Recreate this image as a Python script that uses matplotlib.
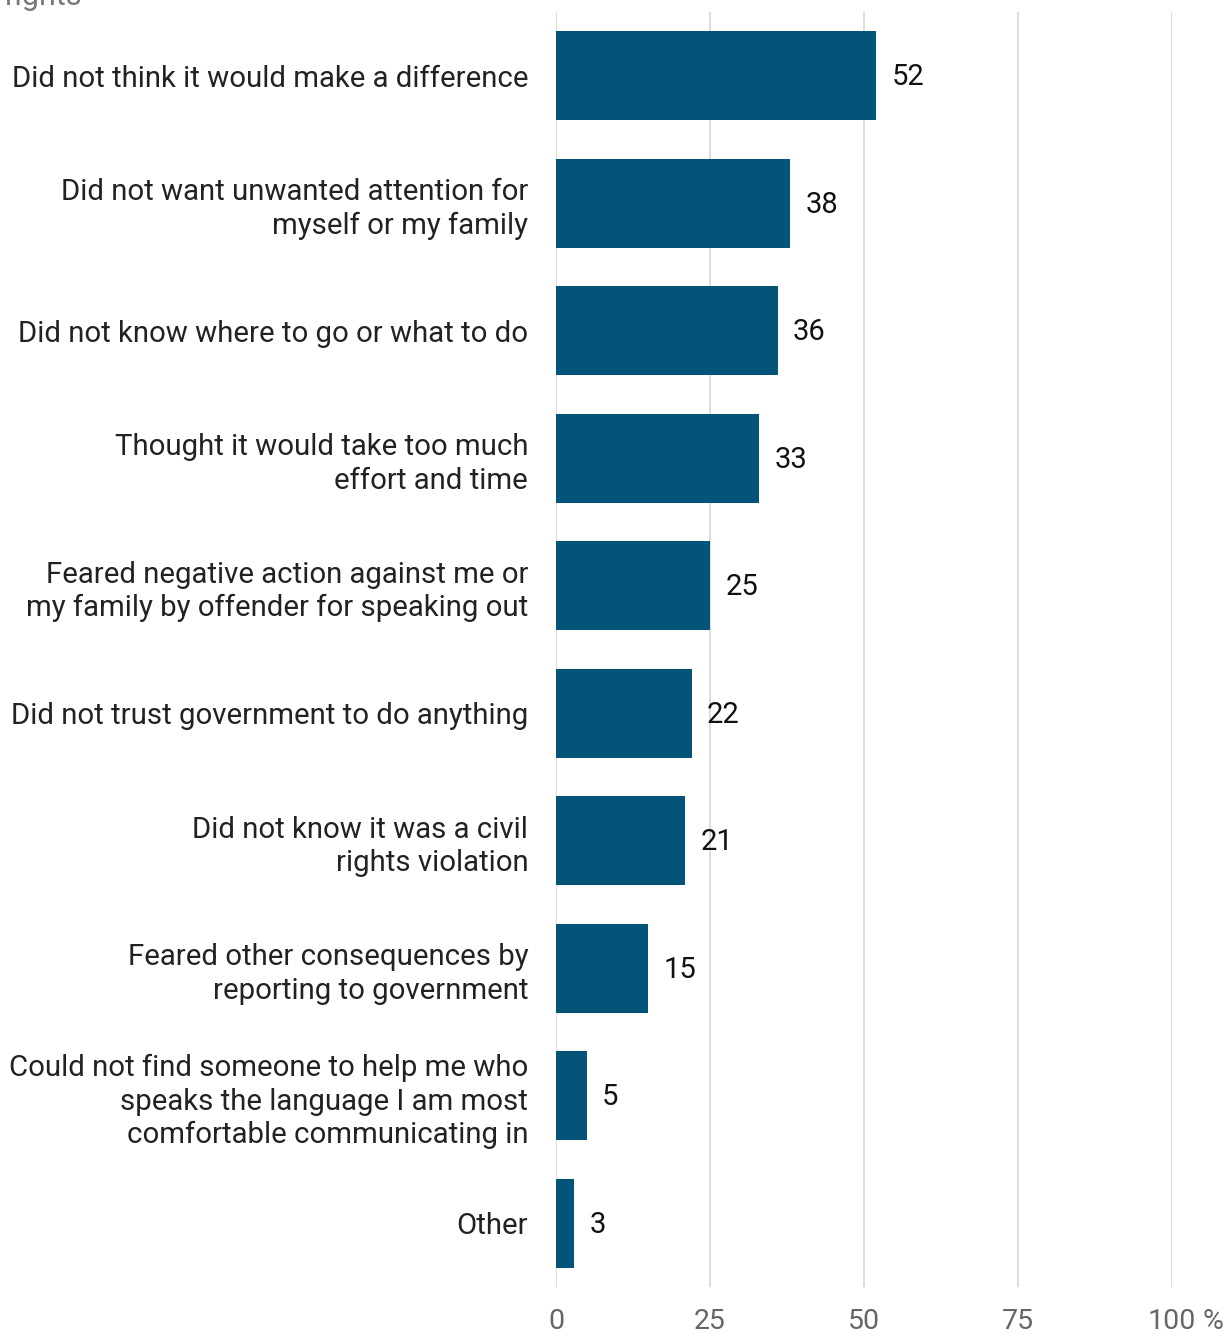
import matplotlib.pyplot as plt
import numpy as np

plt.rcParams['font.family'] = ['Roboto', 'DejaVu Sans']

reasons = [
    'Did not think it would make a difference',
    'Did not want unwanted attention for\nmyself or my family',
    'Did not know where to go or what to do',
    'Thought it would take too much\neffort and time',
    'Feared negative action against me or\nmy family by offender for speaking out',
    'Did not trust government to do anything',
    'Did not know it was a civil\nrights violation',
    'Feared other consequences by\nreporting to government',
    'Could not find someone to help me who\nspeaks the language I am most\ncomfortable communicating in',
    'Other',
]
shares = [52, 38, 36, 33, 25, 22, 21, 15, 5, 3]
x_ticks = [0, 25, 50, 75, 100]
x_ticklabels = ['0', '25', '50', '75', '100']

fig = plt.figure(figsize=(12.31, 13.34), dpi=100)
ax = fig.add_axes([556 / 1231, 1 - 1287 / 1334, 616 / 1231, 1275 / 1334])

y = np.arange(len(reasons))
ax.barh(y, shares, height=0.7, color='#04547a', zorder=2)
for yi, v in zip(y, shares):
    ax.annotate(str(v), (v, yi), xytext=(11, -1), textcoords='offset points',
                va='center', ha='left', fontsize=21, color='#111111')

ax.set_ylim(len(reasons) - 0.5, -0.5)
ax.set_xlim(0, 100)
ax.set_yticks(y)
ax.set_yticklabels(reasons, fontsize=21.2, color='#222222', linespacing=1.25)
ax.set_xticks(x_ticks)
ax.set_xticklabels(x_ticklabels, fontsize=20.5, color='#666666')
ax.tick_params(axis='y', length=0, pad=20)
ax.tick_params(axis='x', length=0, pad=15)
ax.annotate('%', (100, 0), xycoords=('data', 'axes fraction'), xytext=(22, -15),
            textcoords='offset points', ha='left', va='top', fontsize=20.5, color='#666666')

ax.grid(axis='x', color='#dddddd', linewidth=1.5, zorder=0)
for s in ax.spines.values():
    s.set_visible(False)

fig.text(5 / 1231, 1 - 5 / 1334, 'rights', fontsize=22, color='#777777', va='baseline', ha='left')

plt.savefig('out.png', dpi=100)
